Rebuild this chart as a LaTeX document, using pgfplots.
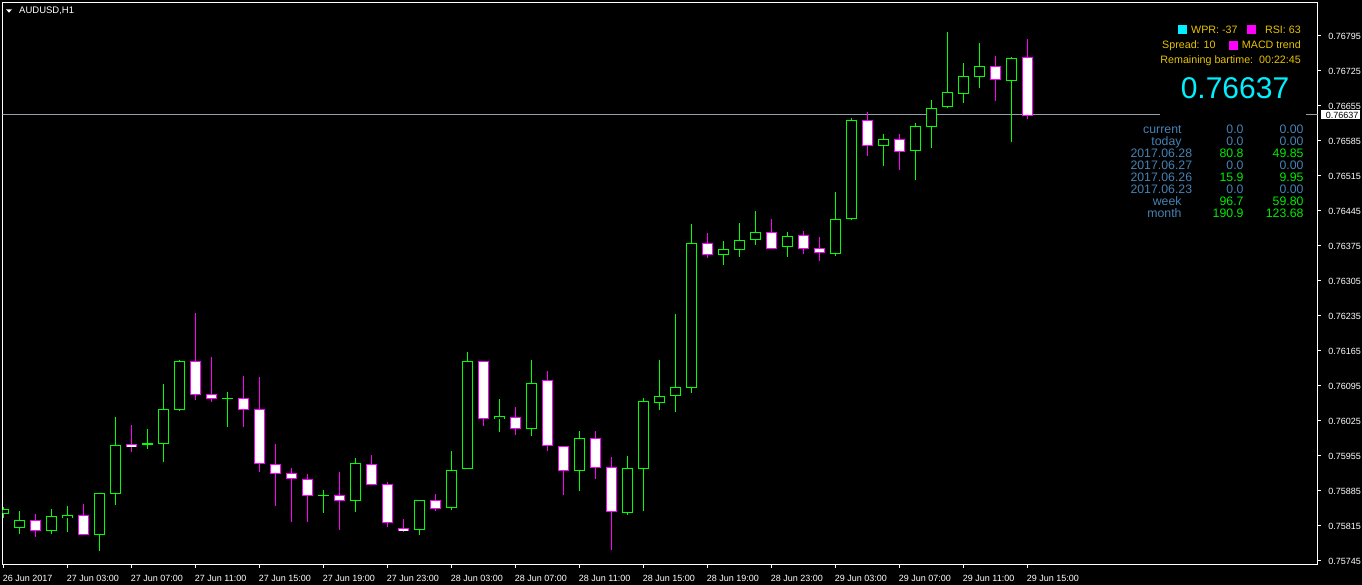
\documentclass[border=0pt]{standalone}
\usepackage{pgfplots}
\pgfplotsset{compat=1.18}
\usepackage{pgfplotstable}
\usepackage{fontspec}
\setmainfont{Liberation Sans}

\definecolor{bullc}{RGB}{0,255,0}
\definecolor{bearc}{RGB}{255,0,255}
\definecolor{pline}{RGB}{150,160,170}
\definecolor{infoc}{RGB}{230,195,0}
\definecolor{tblue}{RGB}{70,130,180}
\definecolor{tgreen}{RGB}{0,235,0}
\definecolor{bigc}{RGB}{0,240,255}
\newcommand\fs[1]{\fontsize{#1}{#1}\selectfont}

% AUDUSD H1, bar index / open / high / low / close
\pgfplotstableread{
x o h l c
0 0.75840 0.75855 0.75832 0.75848
1 0.75812 0.75845 0.75800 0.75826
3 0.75806 0.75849 0.75800 0.75834
4 0.75832 0.75855 0.75804 0.75836
6 0.75798 0.75881 0.75766 0.75880
7 0.75880 0.76033 0.75858 0.75976
9 0.75978 0.76009 0.75970 0.75980
10 0.75980 0.76099 0.75944 0.76048
11 0.76048 0.76147 0.76046 0.76144
14 0.76070 0.76083 0.76014 0.76070
20 0.75876 0.75887 0.75842 0.75876
22 0.75866 0.75953 0.75844 0.75940
26 0.75808 0.75868 0.75798 0.75866
28 0.75852 0.75967 0.75848 0.75926
29 0.75930 0.76163 0.75929 0.76144
31 0.76030 0.76069 0.76004 0.76034
33 0.76010 0.76147 0.75996 0.76100
36 0.75926 0.76005 0.75884 0.75990
39 0.75842 0.75955 0.75838 0.75930
40 0.75930 0.76071 0.75846 0.76064
41 0.76062 0.76149 0.76048 0.76074
42 0.76076 0.76239 0.76044 0.76092
43 0.76092 0.76419 0.76082 0.76380
45 0.76358 0.76387 0.76338 0.76368
46 0.76368 0.76423 0.76354 0.76386
47 0.76388 0.76445 0.76378 0.76402
49 0.76374 0.76403 0.76354 0.76394
52 0.76360 0.76483 0.76356 0.76428
53 0.76430 0.76632 0.76427 0.76626
55 0.76576 0.76601 0.76536 0.76588
57 0.76566 0.76621 0.76508 0.76614
58 0.76614 0.76667 0.76572 0.76650
59 0.76654 0.76805 0.76652 0.76682
60 0.76680 0.76741 0.76662 0.76714
61 0.76714 0.76781 0.76692 0.76734
63 0.76706 0.76753 0.76584 0.76750
}\bull

\pgfplotstableread{
x o h l c
2 0.75826 0.75839 0.75794 0.75806
5 0.75836 0.75859 0.75797 0.75798
8 0.75978 0.76019 0.75964 0.75974
12 0.76144 0.76241 0.76068 0.76078
13 0.76078 0.76153 0.76064 0.76070
15 0.76070 0.76115 0.76012 0.76048
16 0.76048 0.76113 0.75924 0.75940
17 0.75938 0.75979 0.75856 0.75920
18 0.75920 0.75933 0.75824 0.75910
19 0.75908 0.75919 0.75824 0.75876
21 0.75876 0.75923 0.75808 0.75866
23 0.75938 0.75957 0.75897 0.75898
24 0.75900 0.75904 0.75814 0.75824
25 0.75810 0.75829 0.75804 0.75806
27 0.75866 0.75879 0.75846 0.75850
30 0.76144 0.76147 0.76016 0.76030
32 0.76032 0.76055 0.75998 0.76010
34 0.76106 0.76125 0.75966 0.75976
35 0.75974 0.75976 0.75878 0.75926
37 0.75990 0.76005 0.75910 0.75932
38 0.75932 0.75955 0.75768 0.75844
44 0.76380 0.76403 0.76352 0.76358
48 0.76402 0.76429 0.76369 0.76370
50 0.76396 0.76407 0.76360 0.76370
51 0.76370 0.76393 0.76346 0.76362
54 0.76626 0.76645 0.76556 0.76576
56 0.76588 0.76599 0.76526 0.76564
62 0.76734 0.76755 0.76666 0.76708
64 0.76752 0.76789 0.76630 0.76637
}\bear

\pgfplotsset{
  candle/.style n args={2}{color=#1, draw=none, mark=none, forget plot,
    error bars/.cd, y dir=both, y explicit, error mark=none,
    error bar style={color=#1, draw=#1, line width=#2, line cap=butt, solid}},
}

\begin{document}
\begin{tikzpicture}[x=1pt,y=1pt]
\fill[black] (0pt,0pt) rectangle (1362pt,585pt);
\begin{axis}[
  at={(2.5pt,20.5pt)}, anchor=south west,
  scale only axis, width=1315pt, height=562pt,
  xmin=-0.0625, xmax=82.125, ymin=0.75738, ymax=0.76862,
  axis line style={white, line width=1pt},
  tick style={white, line width=1pt},
  tick align=outside, major tick length=3.5pt,
  xtick pos=bottom, ytick pos=right, yticklabel pos=right,
  xtick={0,4,...,64},
  xticklabels={26 Jun 2017,27 Jun 03:00,27 Jun 07:00,27 Jun 11:00,27 Jun 15:00,27 Jun 19:00,27 Jun 23:00,28 Jun 03:00,28 Jun 07:00,28 Jun 11:00,28 Jun 15:00,28 Jun 19:00,28 Jun 23:00,29 Jun 03:00,29 Jun 07:00,29 Jun 11:00,29 Jun 15:00},
  ytick={0.75745,0.75815,0.75885,0.75955,0.76025,0.76095,0.76165,0.76235,0.76305,0.76375,0.76445,0.76515,0.76585,0.76655,0.76725,0.76795},
  yticklabels={0.75745,0.75815,0.75885,0.75955,0.76025,0.76095,0.76165,0.76235,0.76305,0.76375,0.76445,0.76515,0.76585,0.76655,0.76725,0.76795},
  xticklabel style={anchor=base west, inner sep=0pt, xshift=-0.8pt, yshift=-14pt, text=white, font=\fs{9}},
  yticklabel style={anchor=west, inner sep=0pt, xshift=7.2pt, text=white, font=\fs{9}},
]
% current price line
\addplot[pline, line width=1pt, forget plot] coordinates {(-1,0.76637) (90,0.76637)};
% wicks, high to low
\addplot[candle={bullc}{1pt}]
  table[x=x, y expr={(\thisrow{h}+\thisrow{l})/2}, y error expr={(\thisrow{h}-\thisrow{l})/2}] {\bull};
\addplot[candle={bearc}{1pt}]
  table[x=x, y expr={(\thisrow{h}+\thisrow{l})/2}, y error expr={(\thisrow{h}-\thisrow{l})/2}] {\bear};
% bodies: outline then fill
\addplot[candle={bullc}{11pt}]
  table[x=x, y expr={(\thisrow{o}+\thisrow{c})/2}, y error expr={abs(\thisrow{c}-\thisrow{o})/2+0.00001}] {\bull};
\addplot[candle={black}{9pt}]
  table[x=x, y expr={(\thisrow{o}+\thisrow{c})/2}, y error expr={max(abs(\thisrow{c}-\thisrow{o})/2-0.00001,0)}] {\bull};
\addplot[candle={bearc}{11pt}]
  table[x=x, y expr={(\thisrow{o}+\thisrow{c})/2}, y error expr={abs(\thisrow{c}-\thisrow{o})/2+0.00001}] {\bear};
\addplot[candle={white}{9pt}]
  table[x=x, y expr={(\thisrow{o}+\thisrow{c})/2}, y error expr={max(abs(\thisrow{c}-\thisrow{o})/2-0.00001,0)}] {\bear};
\end{axis}

% symbol title
\fill[white] (6,575.7) -- (12,575.7) -- (9,572.3) -- cycle;
\node[anchor=base west, inner sep=0pt, text=white, font=\fs{9.5}] at (19,571) {AUDUSD,H1};

% current price marker on the scale
\fill[white] (1320.7,465.5) rectangle (1360,474.5);
\node[anchor=west, inner sep=0pt, text=black, font=\fs{9}] at (1325.7,469.8) {0.76637};

% info panel
\fill[bigc] (1178,551) rectangle (1187,560);
\node[anchor=base west, inner sep=0pt, text=infoc, font=\fs{10.7}] at (1191,551) {WPR: -37};
\fill[bearc] (1247,551) rectangle (1256,560);
\node[anchor=base east, inner sep=0pt, text=infoc, font=\fs{10.7}] at (1301,551) {RSI: 63};
\node[anchor=base west, inner sep=0pt, text=infoc, font=\fs{10.7}] at (1162,536) {Spread: 10};
\fill[bearc] (1229,535) rectangle (1238,544);
\node[anchor=base east, inner sep=0pt, text=infoc, font=\fs{10.7}] at (1301,536) {MACD trend};
\node[anchor=base east, inner sep=0pt, text=infoc, font=\fs{10.7}] at (1301,521.3) {Remaining bartime:\ \ 00:22:45};
\fill[black] (1160,465) rectangle (1306,475);
\node[anchor=base, inner sep=0pt, text=bigc, font=\fs{30}] at (1235,486.7) {0.76637};

% profit table
\begin{scope}[every node/.style={inner sep=0pt, font=\fs{12.3}}]
\node[anchor=base east, text=tblue] at (1181.7,451.2) {current};
\node[anchor=base east, text=tblue] at (1243.7,451.2) {0.0};
\node[anchor=base east, text=tblue] at (1303.7,451.2) {0.00};
\node[anchor=base east, text=tblue] at (1181.7,439.2) {today};
\node[anchor=base east, text=tblue] at (1243.7,439.2) {0.0};
\node[anchor=base east, text=tblue] at (1303.7,439.2) {0.00};
\node[anchor=base east, text=tblue] at (1192.3,427.2) {2017.06.28};
\node[anchor=base east, text=tgreen] at (1243.7,427.2) {80.8};
\node[anchor=base east, text=tgreen] at (1303.7,427.2) {49.85};
\node[anchor=base east, text=tblue] at (1192.3,415.2) {2017.06.27};
\node[anchor=base east, text=tblue] at (1243.7,415.2) {0.0};
\node[anchor=base east, text=tblue] at (1303.7,415.2) {0.00};
\node[anchor=base east, text=tblue] at (1192.3,403.2) {2017.06.26};
\node[anchor=base east, text=tgreen] at (1243.7,403.2) {15.9};
\node[anchor=base east, text=tgreen] at (1303.7,403.2) {9.95};
\node[anchor=base east, text=tblue] at (1192.3,391.2) {2017.06.23};
\node[anchor=base east, text=tblue] at (1243.7,391.2) {0.0};
\node[anchor=base east, text=tblue] at (1303.7,391.2) {0.00};
\node[anchor=base east, text=tblue] at (1181.7,379.2) {week};
\node[anchor=base east, text=tgreen] at (1243.7,379.2) {96.7};
\node[anchor=base east, text=tgreen] at (1303.7,379.2) {59.80};
\node[anchor=base east, text=tblue] at (1181.7,367.2) {month};
\node[anchor=base east, text=tgreen] at (1243.7,367.2) {190.9};
\node[anchor=base east, text=tgreen] at (1303.7,367.2) {123.68};
\end{scope}

\pgfresetboundingbox
\useasboundingbox (0pt,0pt) rectangle (1362pt,585pt);
\end{tikzpicture}
\end{document}
